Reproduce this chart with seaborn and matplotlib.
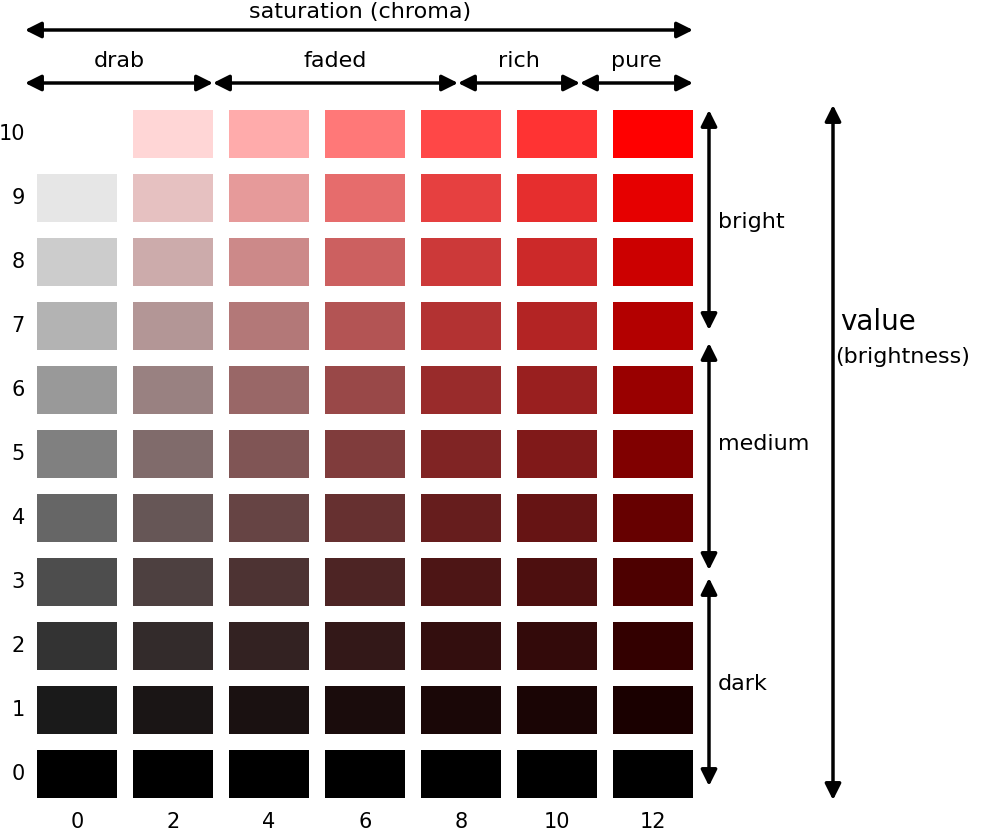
import numpy as np
import matplotlib
matplotlib.use("Agg")
import matplotlib.pyplot as plt
from matplotlib.colors import ListedColormap
import seaborn as sns

chroma_labels = [0, 2, 4, 6, 8, 10, 12]
value_labels = [10, 9, 8, 7, 6, 5, 4, 3, 2, 1, 0]
# grey level (0-1) of each value row, top to bottom
value_levels = [1.0, 0.9, 0.8, 0.7, 0.6, 0.5, 0.4, 0.3, 0.2, 0.1, 0.0]
# fraction of pure red for each chroma column
chroma_fracs = [0.0, 0.16, 0.33, 0.53, 0.72, 0.80, 1.0]

colors = []
idx = np.zeros((len(value_labels), len(chroma_labels)), dtype=int)
for i, L in enumerate(value_levels):
    for j, f in enumerate(chroma_fracs):
        idx[i, j] = len(colors)
        colors.append((L, L * (1 - f), L * (1 - f)))
cmap = ListedColormap(colors)

W, H = 988, 831
fig = plt.figure(figsize=(W / 100, H / 100), dpi=100)
def px(x, y):
    return (x / W, 1 - y / H)

ax = fig.add_axes([29 / W, 1 - 806 / H, 672 / W, 704 / H])
sns.heatmap(idx, cmap=cmap, vmin=-0.5, vmax=len(colors) - 0.5, cbar=False,
            linewidths=11.5, linecolor="white",
            xticklabels=chroma_labels, yticklabels=value_labels, ax=ax)
ax.tick_params(length=0, labelsize=15)
ax.tick_params(axis="y", rotation=0, pad=3)
ax.tick_params(axis="x", pad=4)
for s in ax.spines.values():
    s.set_visible(False)

def arrow(x1, y1, x2, y2, lw=2.5):
    fig.add_artist(matplotlib.patches.FancyArrowPatch(
        px(x1, y1), px(x2, y2), transform=fig.transFigure,
        arrowstyle="<|-|>", mutation_scale=24, lw=lw, color="black",
        shrinkA=0, shrinkB=0))

def label(x, y, s, size=15, ha="center"):
    fig.text(*px(x, y), s, fontsize=size, ha=ha, va="center")

arrow(25, 30, 693, 30)
label(360, 12, "saturation (chroma)", 16)
for (a, b, t) in [(25, 213, "drab"), (213, 458, "faded"), (458, 580, "rich"), (580, 693, "pure")]:
    arrow(a, 83, b, 83)
    label((a + b) / 2, 61, t, 16)
for (a, b, t, ly) in [(110, 330, "bright", 222), (343, 570, "medium", 444), (578, 786, "dark", 684)]:
    arrow(709, a, 709, b)
    label(718, ly, t, 16, ha="left")
arrow(833, 105, 833, 800)
label(840, 322, "value", 20, ha="left")
label(835, 357, "(brightness)", 16, ha="left")

fig.savefig("out.png", dpi=100, facecolor="white")
